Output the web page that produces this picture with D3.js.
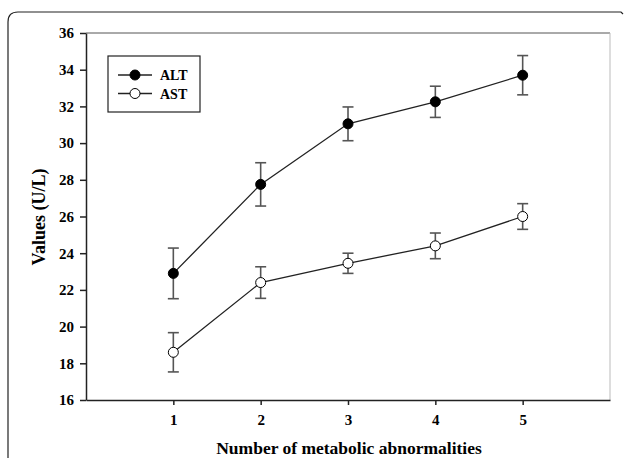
<!DOCTYPE html>
<html>
<head>
<meta charset="utf-8">
<script src="https://cdn.jsdelivr.net/npm/d3@7"></script>
<style>
  body { margin: 0; background: #fff; }
  text { font-family: "Liberation Serif", "Times New Roman", serif; font-weight: bold; fill: #000; }
</style>
</head>
<body>
<svg id="chart" width="625" height="458"></svg>
<script>
// data
var abnormalities = [1, 2, 3, 4, 5];
var altMean = [22.9, 27.75, 31.05, 32.25, 33.7];
var altErr  = [1.38, 1.18, 0.92, 0.85, 1.07];
var astMean = [18.6, 22.4, 23.45, 24.4, 26.0];
var astErr  = [1.07, 0.86, 0.55, 0.7, 0.7];
var yTicks  = [16, 18, 20, 22, 24, 26, 28, 30, 32, 34, 36];

var svg = d3.select("#chart");

// outer frame, rounded top-left corner
svg.append("path")
    .attr("d", "M8,458 L8,22 Q8,12 18,12 L621,12 L623,14")
    .attr("fill", "none")
    .attr("stroke", "#222")
    .attr("stroke-width", 1.2);

var plotLeft = 86, plotRight = 610, plotTop = 33, plotBottom = 400;

var x = d3.scaleLinear().domain([0, 6]).range([plotLeft, plotRight]);
var y = d3.scaleLinear().domain([16, 36]).range([plotBottom, plotTop]);

// plot box top / right
svg.append("line").attr("x1", plotLeft).attr("x2", plotRight).attr("y1", plotTop).attr("y2", plotTop)
    .attr("stroke", "#555").attr("stroke-width", 1);
svg.append("line").attr("x1", plotRight).attr("x2", plotRight).attr("y1", plotTop).attr("y2", plotBottom)
    .attr("stroke", "#bbb").attr("stroke-width", 1);

// axes
var yAxis = d3.axisLeft(y).tickValues(yTicks).tickSize(6).tickPadding(6).tickSizeOuter(0)
    .tickFormat(d3.format("d"));
var gy = svg.append("g").attr("transform", "translate(" + plotLeft + ",0)").call(yAxis);

var xAxis = d3.axisBottom(x).tickValues(abnormalities).tickSize(5).tickPadding(9).tickSizeOuter(0)
    .tickFormat(d3.format("d"));
var gx = svg.append("g").attr("transform", "translate(0," + plotBottom + ")").call(xAxis);

[gy, gx].forEach(function(g) {
    g.attr("font-size", null).attr("font-family", null);
    g.select(".domain").attr("stroke", "#222").attr("stroke-width", 1.5);
    g.selectAll(".tick line").attr("stroke", "#222").attr("stroke-width", 1.5);
    g.selectAll(".tick text")
        .style("font-size", "15px")
        .attr("fill", "#000");
});

// axis titles
svg.append("text")
    .attr("x", 349).attr("y", 454)
    .attr("text-anchor", "middle")
    .style("font-size", "17.5px")
    .text("Number of metabolic abnormalities");

svg.append("text")
    .attr("transform", "translate(45,217) rotate(-90)")
    .attr("text-anchor", "middle")
    .style("font-size", "18px")
    .text("Values (U/L)");

// series
var series = [
    { name: "ALT", mean: altMean, err: altErr, fill: "#000" },
    { name: "AST", mean: astMean, err: astErr, fill: "#fff" }
];

var line = d3.line()
    .x(function(d) { return x(d.x); })
    .y(function(d) { return y(d.v); });

series.forEach(function(s) {
    var pts = abnormalities.map(function(a, i) { return { x: a, v: s.mean[i], e: s.err[i] }; });
    var g = svg.append("g");

    g.append("path")
        .datum(pts)
        .attr("d", line)
        .attr("fill", "none")
        .attr("stroke", "#222")
        .attr("stroke-width", 1.3);

    // error bars
    var eb = g.selectAll(".err").data(pts).enter().append("g").attr("class", "err");
    eb.append("line")
        .attr("x1", function(d) { return x(d.x); })
        .attr("x2", function(d) { return x(d.x); })
        .attr("y1", function(d) { return y(d.v - d.e); })
        .attr("y2", function(d) { return y(d.v + d.e); });
    eb.append("line")
        .attr("x1", function(d) { return x(d.x) - 5.5; })
        .attr("x2", function(d) { return x(d.x) + 5.5; })
        .attr("y1", function(d) { return y(d.v + d.e); })
        .attr("y2", function(d) { return y(d.v + d.e); });
    eb.append("line")
        .attr("x1", function(d) { return x(d.x) - 5.5; })
        .attr("x2", function(d) { return x(d.x) + 5.5; })
        .attr("y1", function(d) { return y(d.v - d.e); })
        .attr("y2", function(d) { return y(d.v - d.e); });
    eb.selectAll("line").attr("stroke", "#555").attr("stroke-width", 1.6);

    g.selectAll("circle").data(pts).enter().append("circle")
        .attr("cx", function(d) { return x(d.x); })
        .attr("cy", function(d) { return y(d.v); })
        .attr("r", 5)
        .attr("fill", s.fill)
        .attr("stroke", "#000")
        .attr("stroke-width", 1);
});

// legend
var legend = svg.append("g");
legend.append("rect")
    .attr("x", 108).attr("y", 56).attr("width", 92).attr("height", 56)
    .attr("fill", "#fff").attr("stroke", "#222").attr("stroke-width", 1.2);

series.forEach(function(s, i) {
    var ly = 75 + i * 18.5;
    legend.append("line")
        .attr("x1", 118).attr("x2", 152).attr("y1", ly).attr("y2", ly)
        .attr("stroke", "#222").attr("stroke-width", 1.3);
    legend.append("circle")
        .attr("cx", 135).attr("cy", ly).attr("r", 5)
        .attr("fill", s.fill).attr("stroke", "#000").attr("stroke-width", 1);
    legend.append("text")
        .attr("x", 160).attr("y", ly + 5)
        .style("font-size", "14px")
        .text(s.name);
});
</script>
</body>
</html>
